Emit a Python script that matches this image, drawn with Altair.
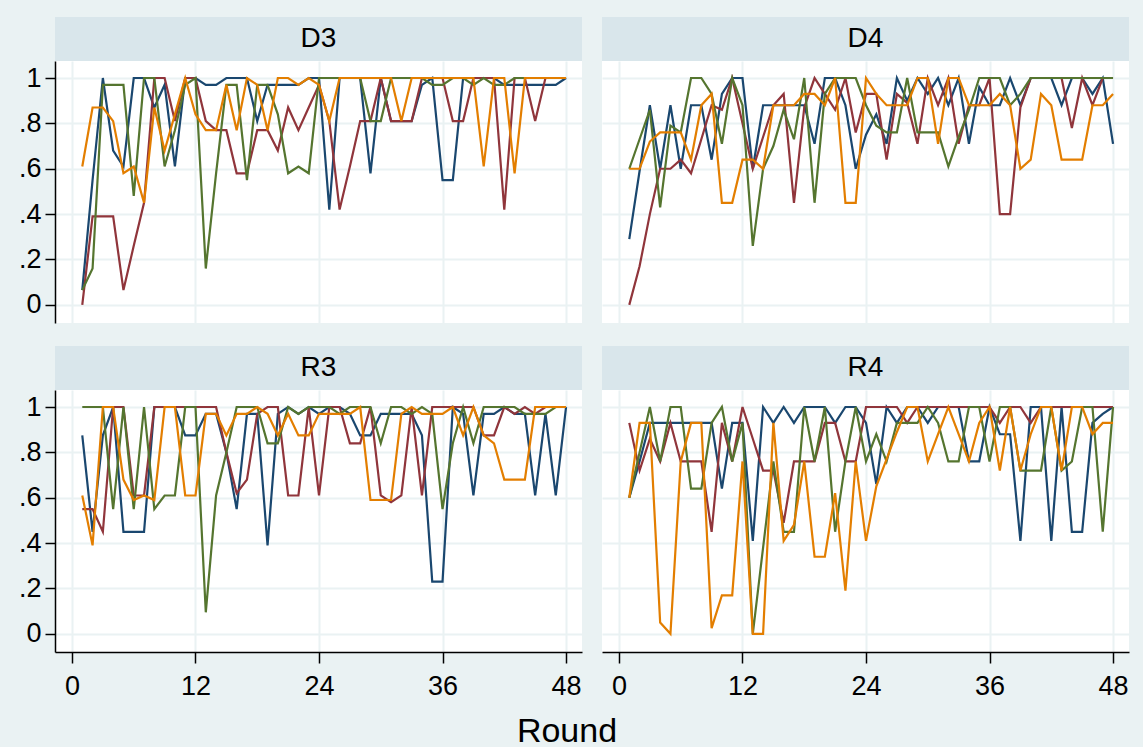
import altair as alt
import pandas as pd

rounds = list(range(1, 49))
panels = ["D3", "D4", "R3", "R4"]
series = ["s1", "s2", "s3", "s4"]
colors = ["#1a476f", "#90353b", "#55752f", "#e37e00"]

d3_s1 = [.065, .55, 1, .68, .61, 1, 1, .87, .97, .61, 1, 1, .97, .97, 1, 1, 1, .81, .97, .97, .97, .97, 1, 1,
         .42, 1, 1, 1, .58, 1, .81, .81, .81, .97, 1, .55, .55, 1, 1, 1, 1, .97, .97, .97, .97, .97, .97, 1]
d3_s2 = [0, .39, .39, .39, .065, .26, .45, 1, 1, .81, 1, 1, .81, .77, .77, .58, .58, .77, .77, .68, .87, .77, .87, .97,
         .81, .42, .61, .81, .81, 1, .81, .81, .81, 1, 1, 1, .81, .81, 1, 1, 1, .42, 1, 1, .81, 1, 1, 1]
d3_s3 = [.065, .16, .97, .97, .97, .48, 1, 1, .61, .77, .97, 1, .16, .58, .97, .97, .55, .97, .97, .84, .58, .61, .58, 1,
         1, 1, 1, 1, .81, .81, 1, 1, 1, 1, .97, .97, 1, 1, .97, 1, .97, .97, 1, 1, 1, 1, 1, 1]
d3_s4 = [.61, .87, .87, .81, .58, .61, .45, .87, .68, .84, 1, .84, .77, .77, .97, .77, 1, .97, .77, 1, 1, .97, 1, .97,
         .81, 1, 1, 1, 1, 1, 1, .81, 1, 1, 1, 1, 1, 1, 1, .61, 1, 1, .58, 1, 1, 1, 1, 1]

d4_s1 = [.29, .59, .88, .6, .88, .6, .88, .88, .64, .93, 1, 1, .6, .88, .88, .88, .88, .88, .71, 1, 1, .88, .6, .75,
         .84, .71, 1, .9, 1, .93, 1, .88, 1, .71, .96, .88, .88, 1, .88, 1, 1, 1, .88, 1, 1, .93, 1, .71]
d4_s2 = [0, .17, .4, .6, .6, .64, .58, .73, .88, .86, 1, .8, .6, .74, .88, .93, .45, .87, 1, .93, .86, 1, .76, .93,
         .93, .64, .93, .89, .71, 1, .88, 1, .71, .88, .88, 1, .4, .4, .87, 1, 1, 1, 1, .78, 1, .88, 1, 1]
d4_s3 = [.6, .73, .86, .43, .79, .76, 1, 1, .93, .71, 1, .88, .26, .6, .7, .86, .73, 1, .45, .93, 1, 1, 1, .88,
         .79, .76, .76, 1, .76, .76, .76, .61, .74, .86, 1, 1, 1, .88, .93, 1, 1, 1, 1, 1, 1, 1, 1, 1]
d4_s4 = [.6, .6, .72, .76, .76, .76, .64, .88, .93, .45, .45, .64, .64, .6, .88, .88, .88, .93, .93, .88, 1, .45, .45, 1,
         .93, .88, .88, .88, 1, 1, .71, 1, 1, .88, .88, .88, .93, .88, .6, .64, .93, .88, .64, .64, .64, .88, .88, .93]

r3_s1 = [.875, .45, .875, 1, .45, .45, .45, 1, 1, 1, .875, .875, .97, .97, .8, .55, .97, .97, .39, .97, 1, .97, 1, .97,
         1, 1, .97, .875, .875, .97, .97, .97, .97, .875, .23, .23, 1, .97, .61, .97, .97, 1, .97, .97, .61, .97, .61, 1]
r3_s2 = [.55, .55, .45, 1, 1, .61, .61, 1, 1, 1, 1, 1, 1, 1, .8, .62, .68, .97, 1, 1, .61, .61, 1, .61,
         1, 1, .84, .84, 1, .61, .58, .61, 1, .61, 1, 1, 1, 1, 1, .875, .875, 1, .97, 1, .97, 1, 1, 1]
r3_s3 = [1, 1, 1, .55, 1, .55, 1, .55, .61, .61, 1, 1, .095, .61, .8, 1, 1, 1, .84, .84, 1, .97, 1, 1,
         1, .97, 1, 1, 1, .84, 1, 1, .97, 1, .97, .55, .84, 1, .84, 1, 1, 1, 1, .97, .97, .97, 1, 1]
r3_s4 = [.61, .39, 1, 1, .68, .59, .61, .59, 1, 1, .61, .61, .97, .97, .875, .97, .97, 1, .97, .875, .97, .875, .875, .97,
         .97, .97, .97, 1, .59, .59, .59, .97, 1, .97, .97, .97, 1, .875, 1, .875, .84, .68, .68, .68, 1, 1, 1, 1]

r4_s1 = [.6, .76, .93, .93, .93, .93, .93, .93, .93, .64, .93, .93, .41, 1, .93, 1, .93, 1, 1, 1, .93, 1, 1, .93,
         .66, 1, .93, 1, 1, .93, 1, 1, 1, .76, .76, 1, .88, .88, .41, 1, 1, .41, 1, .45, .45, .93, .97, 1]
r4_s2 = [.93, .72, .86, .76, .93, .76, .76, .76, .45, .93, .76, 1, .86, .72, .72, .49, .76, .76, .76, .93, .93, .76, .76, 1,
         1, 1, 1, .93, 1, 1, 1, 1, 1, 1, 1, 1, .93, 1, 1, .93, 1, 1, 1, 1, 1, 1, 1, 1]
r4_s3 = [.6, .8, 1, .76, 1, 1, .64, .64, .93, 1, .76, .93, 0, .38, .76, .45, .45, 1, .76, 1, .45, .76, 1, .76,
         .88, .76, .93, .93, .93, 1, .93, .76, .76, 1, 1, .76, 1, 1, .72, .72, .72, 1, .72, .76, 1, 1, .45, 1]
r4_s4 = [.6, .93, .93, .05, 0, .76, .93, .93, .025, .17, .17, .76, 0, 0, .93, .41, .48, .76, .34, .34, .62, .19, .76, .41,
         .65, .77, .89, 1, 1, .76, .88, 1, .88, .76, .93, 1, .72, 1, .72, .88, 1, 1, .72, 1, 1, .88, .93, .93]

values = {
    "D3": [d3_s1, d3_s2, d3_s3, d3_s4],
    "D4": [d4_s1, d4_s2, d4_s3, d4_s4],
    "R3": [r3_s1, r3_s2, r3_s3, r3_s4],
    "R4": [r4_s1, r4_s2, r4_s3, r4_s4],
}

rows = []
for p in panels:
    for s, vals in zip(series, values[p]):
        for r, v in zip(rounds, vals):
            rows.append({"panel": p, "round": r, "series": s, "value": v})
df = pd.DataFrame(rows)

FONT = "Liberation Sans Narrow, Liberation Sans, Arial"
BG = "#eaf2f3"
STRIP = "#d9e6eb"
GRID = "#eaf2f3"
W, H = 527, 262
STRIP_H = 44

x_scale = alt.Scale(domain=[-1.65, 49.55], nice=False, zero=False)
y_scale = alt.Scale(domain=[-0.08, 1.075], nice=False, zero=False)

y_label_expr = ("datum.value == 0 ? '0' : datum.value == 1 ? '1' : "
                "replace(format(datum.value, '.1f'), '0.', '.')")


def make_panel(name, left, bottom):
    if left:
        y_axis = alt.Axis(values=[0, .2, .4, .6, .8, 1], labelExpr=y_label_expr, title=None,
                          tickSize=10, labelPadding=4, domainColor="black", tickColor="black",
                          domainWidth=1.5, tickWidth=1.5, grid=True, gridColor=GRID, gridWidth=2,
                          labelFont=FONT, labelFontSize=27, labelColor="black",
                          minExtent=50, maxExtent=50)
    else:
        y_axis = alt.Axis(values=[0, .2, .4, .6, .8, 1], title=None, labels=False, ticks=False,
                          domain=False, grid=True, gridColor=GRID, gridWidth=2,
                          minExtent=0, maxExtent=0)
    if bottom:
        x_axis = alt.Axis(values=[0, 12, 24, 36, 48], title=None, tickSize=11, labelPadding=10,
                          domainColor="black", tickColor="black", domainWidth=1.5, tickWidth=1.5,
                          grid=True, gridColor=GRID, gridWidth=2,
                          labelFont=FONT, labelFontSize=27, labelColor="black")
    else:
        x_axis = alt.Axis(values=[0, 12, 24, 36, 48], title=None, labels=False, ticks=False,
                          domain=False, grid=True, gridColor=GRID, gridWidth=2,
                          minExtent=0, maxExtent=0)

    one = pd.DataFrame({"panel": [name]})
    strip_bg = alt.Chart(one).mark_rect(color=STRIP).encode(
        x=alt.value(0), x2=alt.value(W), y=alt.value(-STRIP_H), y2=alt.value(0))
    strip_txt = alt.Chart(one).mark_text(font=FONT, fontSize=28, color="black",
                                         align="center", baseline="middle").encode(
        x=alt.value(W / 2), y=alt.value(-STRIP_H / 2), text="panel:N")
    lines = alt.Chart(df[df["panel"] == name]).mark_line(strokeWidth=2.2).encode(
        x=alt.X("round:Q", scale=x_scale, axis=x_axis),
        y=alt.Y("value:Q", scale=y_scale, axis=y_axis),
        color=alt.Color("series:N", scale=alt.Scale(domain=series, range=colors), legend=None),
        detail="series:N",
    )
    return alt.layer(strip_bg, strip_txt, lines).properties(width=W, height=H)


top = alt.hconcat(make_panel("D3", True, False), make_panel("D4", False, False), spacing=20)
bot = alt.hconcat(make_panel("R3", True, True), make_panel("R4", False, True), spacing=20)

chart = alt.vconcat(top, bot, spacing=23).properties(
    background=BG,
    padding={"left": 5, "top": 17, "right": 14, "bottom": 5},
    title=alt.TitleParams(text="Round", orient="bottom", anchor="middle", font=FONT,
                          fontSize=34, fontWeight="normal", color="black", offset=16),
).configure_view(stroke=None, fill="white")

chart.save("out.html", embed_options={"renderer": "svg", "actions": False})
